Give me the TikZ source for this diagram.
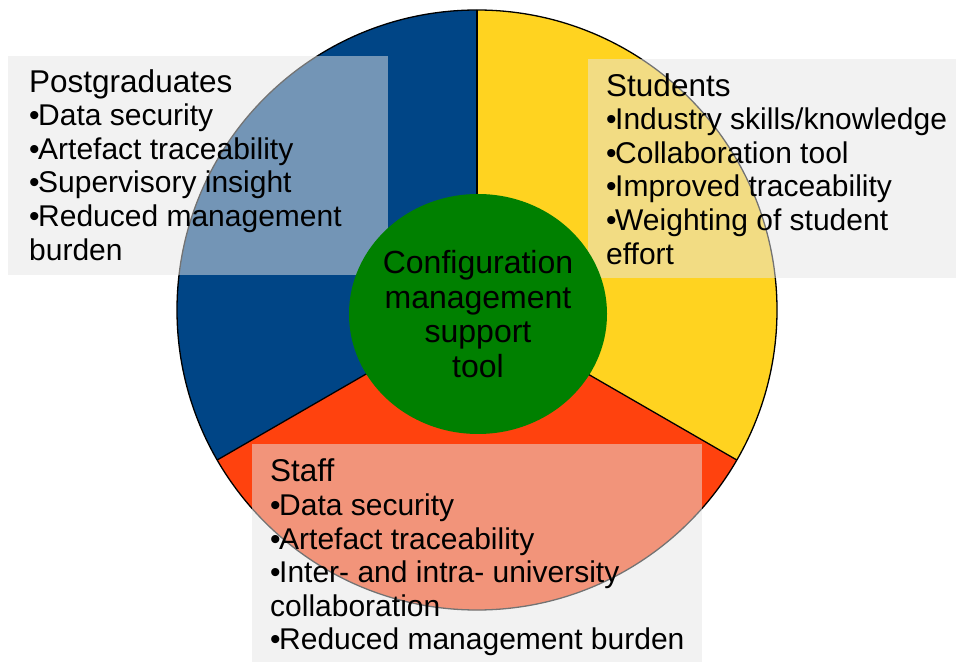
\documentclass[tikz,border=0pt]{standalone}
\usepackage{fontspec}
\setmainfont{Liberation Sans}
\definecolor{cblue}{HTML}{004586}
\definecolor{cyellow}{HTML}{FFD320}
\definecolor{cred}{HTML}{FF420E}
\definecolor{cgreen}{HTML}{008000}
\definecolor{boxgray}{RGB}{230,230,230}
\newcommand{\bul}{•\kern-1.5pt}
\newcommand{\hd}[1]{{\fontsize{31.5}{33.6}\selectfont #1}}
\begin{document}
\begin{tikzpicture}[x=1pt,y=1pt,
  sectorline/.style={draw=black, line width=1.3pt, line join=round},
  infobox/.style={fill=boxgray, fill opacity=0.5, draw=none},
  listtext/.style={anchor=north west, align=left, inner sep=0pt, font=\fontsize{30}{33.6}\selectfont},
  coretext/.style={align=center, inner sep=0pt, font=\fontsize{32}{34.5}\selectfont},
]
\useasboundingbox (0,0) rectangle (956,662);
\coordinate (c) at (477,352);
% sectors
\fill[cyellow] (c) -- ++(-30:300) arc[start angle=-30, end angle=90, radius=300] -- cycle;
\fill[cblue] (c) -- ++(90:300) arc[start angle=90, end angle=210, radius=300] -- cycle;
\fill[cred] (c) -- ++(210:300) arc[start angle=210, end angle=330, radius=300] -- cycle;
\draw[sectorline] (c) -- ++(90:300);
\draw[sectorline] (c) -- ++(210:300);
\draw[sectorline] (c) -- ++(-30:300);
\draw[sectorline] (c) circle[radius=300];
% translucent boxes
\path[infobox] (8,387) rectangle (388,606);
\path[infobox] (588,384) rectangle (956,603);
\path[infobox] (252,0) rectangle (702,218);
% core
\fill[cgreen] (478,348) ellipse[x radius=129, y radius=120];
\node[coretext] (core) at (478,348) {Configuration\\management\\support\\tool};
% texts
\node[listtext] (pg) at (29,593) {\hd{Postgraduates}\\\bul Data security\\\bul Artefact traceability\\\bul Supervisory insight\\\bul Reduced management\\burden};
\node[listtext] (st) at (606,589) {\hd{Students}\\\bul Industry skills/knowledge\\\bul Collaboration tool\\\bul Improved traceability\\\bul Weighting of student\\effort};
\node[listtext] (sf) at (270,203) {\hd{Staff}\\\bul Data security\\\bul Artefact traceability\\\bul Inter- and intra- university\\collaboration\\\bul Reduced management burden};
\end{tikzpicture}
\end{document}
